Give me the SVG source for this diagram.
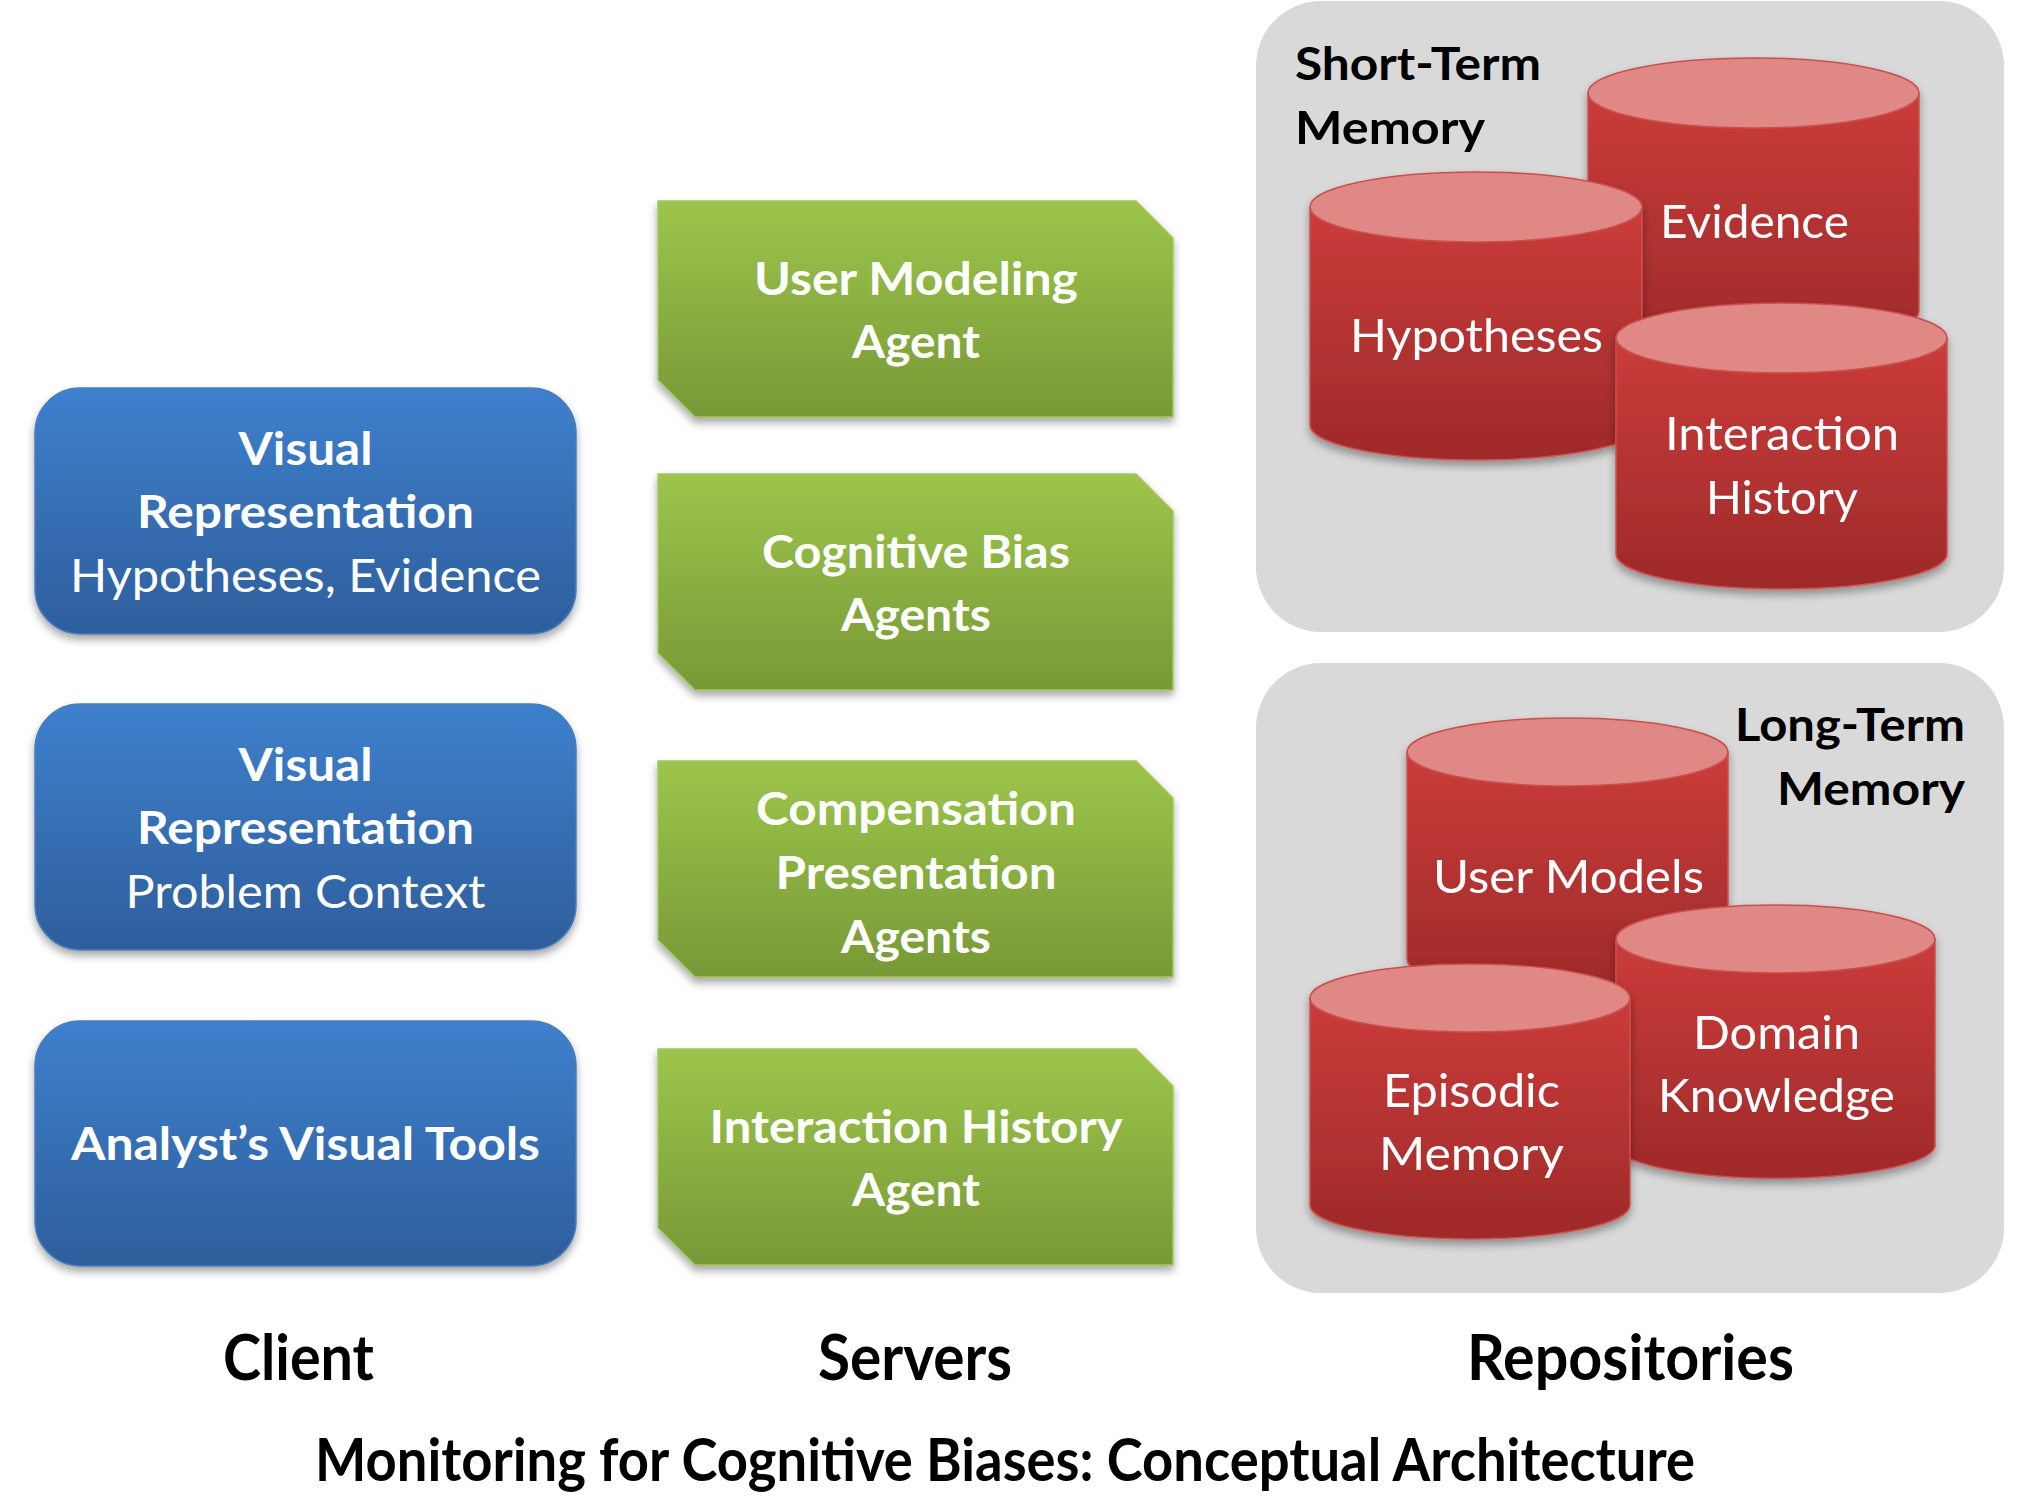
<svg xmlns="http://www.w3.org/2000/svg" width="2030" height="1496" viewBox="0 0 2030 1496">
<defs>
<linearGradient id="gBlue" x1="0" y1="0" x2="0" y2="1"><stop offset="0" stop-color="#3E80CD"/><stop offset="1" stop-color="#2E5E9C"/></linearGradient>
<linearGradient id="gGreen" x1="0" y1="0" x2="0" y2="1"><stop offset="0" stop-color="#9DC54B"/><stop offset="1" stop-color="#779936"/></linearGradient>
<linearGradient id="gRed" x1="0" y1="0" x2="0" y2="1"><stop offset="0" stop-color="#CB3C3A"/><stop offset="1" stop-color="#9E2A2A"/></linearGradient>
<filter id="shadow" x="-10%" y="-10%" width="120%" height="130%"><feDropShadow dx="0" dy="5" stdDeviation="4" flood-color="#000" flood-opacity="0.35"/></filter>
<style>
.t{font-family:Lato,"Open Sans","Liberation Sans",sans-serif;text-anchor:middle;fill:#fff;font-size:46px}
.b{font-weight:bold}
.k{fill:#000}
.blue{fill:url(#gBlue);stroke:#4A7EBB;stroke-width:1.5;filter:url(#shadow)}
.green{fill:url(#gGreen);stroke:#A3C660;stroke-width:1.5;filter:url(#shadow)}
.body{fill:url(#gRed);stroke:#D0504E;stroke-width:1.5}
.top{fill:#E08885;stroke:#C8504C;stroke-width:1.5}
.cyl{filter:url(#shadow)}
.panel{fill:#D9D9D9}
</style>
</defs>
<rect width="2030" height="1496" fill="#fff"/>
<g id="connectors"/>
<!-- Panels -->
<g id="short-term-memory">
<rect class="panel" x="1256" y="1" width="748" height="631" rx="65"/>
<text class="t b k" x="1295" y="80" style="text-anchor:start" textLength="246" lengthAdjust="spacingAndGlyphs">Short-Term</text>
<text class="t b k" x="1295" y="144" style="text-anchor:start" textLength="190" lengthAdjust="spacingAndGlyphs">Memory</text>
</g>
<g id="long-term-memory">
<rect class="panel" x="1256" y="663" width="748" height="630" rx="65"/>
<text class="t b k" x="1965" y="741" style="text-anchor:end" textLength="230" lengthAdjust="spacingAndGlyphs">Long-Term</text>
<text class="t b k" x="1965" y="805" style="text-anchor:end" textLength="188" lengthAdjust="spacingAndGlyphs">Memory</text>
</g>
<!-- Client -->
<g id="client-vis-hyp">
<rect class="blue" x="35" y="388" width="541" height="246" rx="45"/>
<text class="t b" x="305.5" y="465" textLength="134" lengthAdjust="spacingAndGlyphs">Visual</text>
<text class="t b" x="305.5" y="528" textLength="337" lengthAdjust="spacingAndGlyphs">Representation</text>
<text class="t" x="305.5" y="592" textLength="471" lengthAdjust="spacingAndGlyphs">Hypotheses, Evidence</text>
</g>
<g id="client-vis-problem">
<rect class="blue" x="35" y="704" width="541" height="246" rx="45"/>
<text class="t b" x="305.5" y="781" textLength="134" lengthAdjust="spacingAndGlyphs">Visual</text>
<text class="t b" x="305.5" y="844" textLength="337" lengthAdjust="spacingAndGlyphs">Representation</text>
<text class="t" x="305.5" y="908" textLength="360" lengthAdjust="spacingAndGlyphs">Problem Context</text>
</g>
<g id="client-tools">
<rect class="blue" x="35" y="1021" width="541" height="245" rx="45"/>
<text class="t b" x="305.5" y="1160" textLength="469" lengthAdjust="spacingAndGlyphs">Analyst’s Visual Tools</text>
</g>
<!-- Servers -->
<g id="server-user-modeling">
<path class="green" d="M658,201 H1136 L1173,238 V417 H695 L658,380 Z"/>
<text class="t b" x="916" y="295" textLength="324" lengthAdjust="spacingAndGlyphs">User Modeling</text>
<text class="t b" x="916" y="358" textLength="128" lengthAdjust="spacingAndGlyphs">Agent</text>
</g>
<g id="server-cognitive-bias">
<path class="green" d="M658,474 H1136 L1173,511 V690 H695 L658,653 Z"/>
<text class="t b" x="916" y="568" textLength="308" lengthAdjust="spacingAndGlyphs">Cognitive Bias</text>
<text class="t b" x="916" y="631" textLength="150" lengthAdjust="spacingAndGlyphs">Agents</text>
</g>
<g id="server-compensation">
<path class="green" d="M658,761 H1136 L1173,798 V977 H695 L658,940 Z"/>
<text class="t b" x="916" y="825" textLength="320" lengthAdjust="spacingAndGlyphs">Compensation</text>
<text class="t b" x="916" y="889" textLength="281" lengthAdjust="spacingAndGlyphs">Presentation</text>
<text class="t b" x="916" y="953" textLength="150" lengthAdjust="spacingAndGlyphs">Agents</text>
</g>
<g id="server-interaction-history">
<path class="green" d="M658,1049 H1136 L1173,1086 V1265 H695 L658,1228 Z"/>
<text class="t b" x="916" y="1143" textLength="413" lengthAdjust="spacingAndGlyphs">Interaction History</text>
<text class="t b" x="916" y="1206" textLength="128" lengthAdjust="spacingAndGlyphs">Agent</text>
</g>
<!-- Short-term cylinders -->
<g id="repo-evidence" class="cyl">
<path class="body" d="M1588,93 V311 A165.5,35 0 0 0 1919,311 V93 Z"/>
<ellipse class="top" cx="1753.5" cy="93" rx="165.5" ry="35"/>
<text class="t" x="1754.5" y="238" textLength="189" lengthAdjust="spacingAndGlyphs">Evidence</text>
</g>
<g id="repo-hypotheses" class="cyl">
<path class="body" d="M1310,207 V425 A166,35 0 0 0 1642,425 V207 Z"/>
<ellipse class="top" cx="1476" cy="207" rx="166" ry="35"/>
<text class="t" x="1476.5" y="352" textLength="253" lengthAdjust="spacingAndGlyphs">Hypotheses</text>
</g>
<g id="repo-interaction-history" class="cyl">
<path class="body" d="M1616,338 V554 A165.5,35 0 0 0 1947,554 V338 Z"/>
<ellipse class="top" cx="1781.5" cy="338" rx="165.5" ry="35"/>
<text class="t" x="1782" y="450" textLength="234" lengthAdjust="spacingAndGlyphs">Interaction</text>
<text class="t" x="1782" y="514" textLength="152" lengthAdjust="spacingAndGlyphs">History</text>
</g>
<!-- Long-term cylinders -->
<g id="repo-user-models" class="cyl">
<path class="body" d="M1407,752 V959 A160.5,34 0 0 0 1728,959 V752 Z"/>
<ellipse class="top" cx="1567.5" cy="752" rx="160.5" ry="34"/>
<text class="t" x="1568.5" y="893" textLength="271" lengthAdjust="spacingAndGlyphs">User Models</text>
</g>
<g id="repo-domain-knowledge" class="cyl">
<path class="body" d="M1616,939 V1147 A160,34 0 0 0 1935,1147 V939 Z"/>
<ellipse class="top" cx="1775.5" cy="939" rx="159.5" ry="34"/>
<text class="t" x="1776.5" y="1049" textLength="167" lengthAdjust="spacingAndGlyphs">Domain</text>
<text class="t" x="1776.5" y="1112" textLength="237" lengthAdjust="spacingAndGlyphs">Knowledge</text>
</g>
<g id="repo-episodic-memory" class="cyl">
<path class="body" d="M1310,998 V1205 A160,34 0 0 0 1630,1205 V998 Z"/>
<ellipse class="top" cx="1470" cy="998" rx="160" ry="34"/>
<text class="t" x="1471.5" y="1107" textLength="177" lengthAdjust="spacingAndGlyphs">Episodic</text>
<text class="t" x="1471.5" y="1170" textLength="185" lengthAdjust="spacingAndGlyphs">Memory</text>
</g>
<!-- Labels -->
<g id="labels">
<text class="t b k" x="298.5" y="1380" style="font-size:64px" textLength="151" lengthAdjust="spacingAndGlyphs">Client</text>
<text class="t b k" x="915" y="1380" style="font-size:64px" textLength="194" lengthAdjust="spacingAndGlyphs">Servers</text>
<text class="t b k" x="1630.5" y="1380" style="font-size:64px" textLength="327" lengthAdjust="spacingAndGlyphs">Repositories</text>
<text class="t b k" x="1005" y="1481" style="font-size:60px" textLength="1380" lengthAdjust="spacingAndGlyphs">Monitoring for Cognitive Biases: Conceptual Architecture</text>
</g>
</svg>
